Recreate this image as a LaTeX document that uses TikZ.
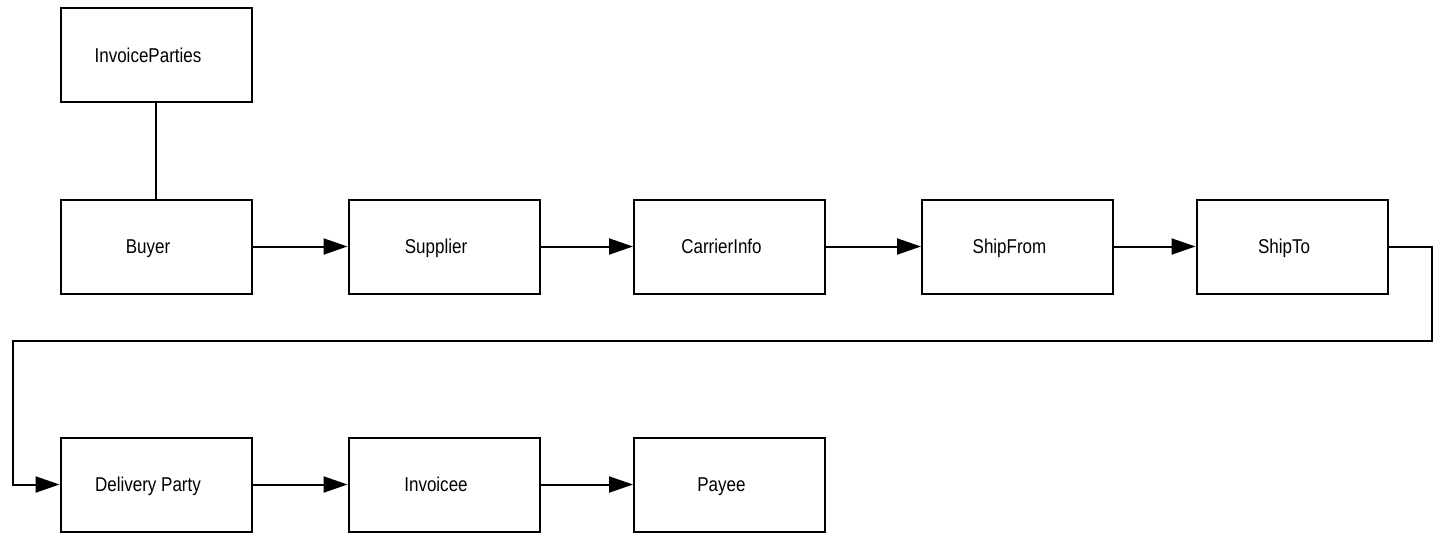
\documentclass[tikz,border=0pt]{standalone}
\usepackage{fontspec}
\setmainfont{Liberation Sans}
\newfontfamily\labfont[FakeStretch=0.85]{Liberation Sans}
\usetikzlibrary{arrows.meta}
\tikzset{
  ent/.style={draw=black, line width=2pt, fill=white, rectangle,
    minimum width=191pt, minimum height=94pt, inner sep=0pt,
    text height=18pt, text depth=4pt,
    font=\labfont\fontsize{20}{24}\selectfont,
    execute at begin node={\hspace*{-16pt}}},
  conn/.style={line width=2pt},
  flow/.style={conn, -{Triangle[length=24pt,width=16pt]}}
}
\begin{document}
\begin{tikzpicture}[x=1pt,y=-1pt]
\useasboundingbox (0,0) rectangle (1433,533);
\node[ent] (ip) at (156,55) {InvoiceParties};
\node[ent] (buyer) at (156,246.5) {Buyer};
\node[ent] (supplier) at (444,246.5) {Supplier};
\node[ent] (carrier) at (729.5,246.5) {CarrierInfo};
\node[ent] (shipfrom) at (1017.5,246.5) {ShipFrom};
\node[ent] (shipto) at (1292,246.5) {ShipTo};
\node[ent] (delivery) at (156,484.5) {Delivery Party};
\node[ent] (invoicee) at (444,484.5) {Invoicee};
\node[ent] (payee) at (729.5,484.5) {Payee};
\coordinate (r1) at (1432,246.5);
\coordinate (r2) at (1432,341);
\coordinate (l1) at (12.5,341);
\coordinate (l2) at (12.5,484.5);
\draw[conn] (ip.south) -- (buyer.north);
\draw[flow] (buyer.east) -- (supplier.west);
\draw[flow] (supplier.east) -- (carrier.west);
\draw[flow] (carrier.east) -- (shipfrom.west);
\draw[flow] (shipfrom.east) -- (shipto.west);
\draw[flow] (shipto.east) -- (r1) -- (r2) -- (l1) -- (l2) -- (delivery.west);
\draw[flow] (delivery.east) -- (invoicee.west);
\draw[flow] (invoicee.east) -- (payee.west);
\end{tikzpicture}
\end{document}
